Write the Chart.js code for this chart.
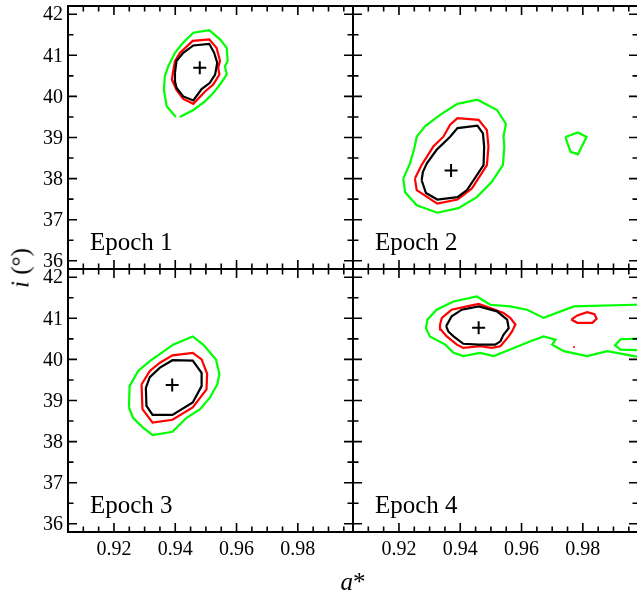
<!DOCTYPE html>
<html>
<head>
<meta charset="utf-8">
<script src="https://cdn.jsdelivr.net/npm/chart.js@4.4.0/dist/chart.umd.min.js"></script>
<style>
  html, body { margin: 0; padding: 0; background: #fff; }
  #wrap { position: relative; width: 637px; height: 595px; overflow: hidden; font-family: "Liberation Serif", "Times New Roman", serif; }
  #wrap canvas { position: absolute; left: 0; top: 0; }
  .lab { position: absolute; font-size: 25px; line-height: 1; color: #000; white-space: nowrap; }
  #ylab { left: 20px; top: 268px; transform: translate(-50%, -50%) rotate(-90deg); }
  #xlab { left: 353px; top: 569px; transform: translateX(-50%); }
</style>
</head>
<body>
<div id="wrap">
  <canvas id="c1" width="640" height="595"></canvas>
  <canvas id="c2" width="640" height="595"></canvas>
  <canvas id="c3" width="640" height="595"></canvas>
  <canvas id="c4" width="640" height="595"></canvas>
  <div class="lab" id="ylab"><i>i</i> (°)</div>
  <div class="lab" id="xlab"><i>a</i>*</div>
</div>
<script>
// axis ranges and tick labels
const X_MIN = 0.905, X_MAX = 0.998;
const Y_MIN = 35.8, Y_MAX = 42.2;
const xTickValues = [0.92, 0.94, 0.96, 0.98];
const yTickValues = [36, 37, 38, 39, 40, 41, 42];

// contour lines, [a*, i] pairs
// Epoch 1
const ep1Black = [[0.9399,40.57],[0.9404,40.86],[0.9426,41.06],[0.9459,41.24],[0.9511,41.28],[0.9527,41.06],[0.9537,40.82],[0.9533,40.65],[0.9530,40.53],[0.9513,40.33],[0.9486,40.18],[0.9459,39.90],[0.9426,40.00],[0.9404,40.21],[0.9399,40.37]];
const ep1Red = [[0.9393,40.61],[0.9399,40.86],[0.9415,41.06],[0.9457,41.35],[0.9511,41.39],[0.9535,41.18],[0.9546,40.86],[0.9540,40.70],[0.9544,40.53],[0.9524,40.29],[0.9497,40.12],[0.9459,39.82],[0.9426,39.94],[0.9404,40.16],[0.9389,40.41]];
const ep1Green = [[0.9402,39.50],[0.9372,39.76],[0.9363,40.16],[0.9366,40.49],[0.9377,40.73],[0.9399,41.06],[0.9426,41.31],[0.9459,41.55],[0.9511,41.61],[0.9546,41.39],[0.9568,41.18],[0.9571,40.86],[0.9562,40.73],[0.9568,40.53],[0.9546,40.29],[0.9524,40.08],[0.9497,39.88],[0.9459,39.67],[0.9415,39.50]];
const ep1Best = [0.948, 40.70];

// Epoch 2
const ep2Black = [[0.9274,37.96],[0.9288,37.65],[0.9325,37.49],[0.9391,37.55],[0.9422,37.72],[0.9476,38.33],[0.9478,38.78],[0.9474,39.10],[0.9456,39.29],[0.9391,39.23],[0.9367,39.02],[0.9323,38.70],[0.9291,38.37],[0.9278,38.16]];
const ep2Red = [[0.9252,38.00],[0.9258,37.72],[0.9325,37.39],[0.9391,37.49],[0.9438,37.76],[0.9487,38.33],[0.9492,38.78],[0.9487,39.18],[0.9460,39.43],[0.9391,39.47],[0.9367,39.31],[0.9345,39.02],[0.9312,38.78],[0.9274,38.33]];
const ep2Green = [[0.9214,38.00],[0.9220,37.67],[0.9258,37.35],[0.9325,37.17],[0.9394,37.28],[0.9454,37.55],[0.9503,37.92],[0.9539,38.33],[0.9544,38.78],[0.9541,39.02],[0.9549,39.33],[0.9520,39.67],[0.9456,39.92],[0.9391,39.82],[0.9334,39.55],[0.9285,39.27],[0.9258,39.02],[0.9249,38.70],[0.9236,38.37]];
const ep2GreenIsland = [[0.9743,39.01],[0.9760,38.65],[0.9784,38.59],[0.9812,39.01],[0.9784,39.12]];
const ep2Best = [0.937, 38.20];

// Epoch 3
const ep3Black = [[0.9304,39.31],[0.9306,38.87],[0.9326,38.65],[0.9391,38.65],[0.9457,38.95],[0.9486,39.35],[0.9486,39.67],[0.9457,39.97],[0.9391,39.98],[0.9350,39.80],[0.9317,39.57]];
const ep3Red = [[0.9290,39.39],[0.9293,38.79],[0.9326,38.46],[0.9391,38.53],[0.9457,38.83],[0.9502,39.27],[0.9504,39.65],[0.9486,40.00],[0.9457,40.16],[0.9391,40.10],[0.9350,39.92],[0.9317,39.72]];
const ep3Green = [[0.9249,38.83],[0.9251,39.35],[0.9279,39.72],[0.9317,39.96],[0.9393,40.36],[0.9457,40.56],[0.9491,40.36],[0.9533,40.00],[0.9544,39.64],[0.9537,39.39],[0.9513,39.07],[0.9481,38.79],[0.9437,38.58],[0.9391,38.24],[0.9326,38.16],[0.9295,38.34],[0.9262,38.58]];
const ep3Best = [0.939, 39.38];

// Epoch 4
const ep4Black = [[0.9354,40.81],[0.9372,41.05],[0.9405,41.21],[0.9460,41.29],[0.9520,41.17],[0.9553,40.97],[0.9558,40.76],[0.9541,40.60],[0.9531,40.44],[0.9514,40.36],[0.9460,40.36],[0.9410,40.38],[0.9378,40.56],[0.9361,40.68]];
const ep4Red = [[0.9334,40.85],[0.9340,41.01],[0.9372,41.21],[0.9422,41.29],[0.9460,41.35],[0.9498,41.25],[0.9541,41.13],[0.9563,41.01],[0.9580,40.85],[0.9569,40.68],[0.9558,40.56],[0.9531,40.32],[0.9503,40.28],[0.9465,40.32],[0.9410,40.28],[0.9389,40.36],[0.9356,40.56],[0.9336,40.73]];
const ep4RedIsland = [[0.9762,40.97],[0.9782,41.07],[0.9814,41.15],[0.9838,41.10],[0.9845,40.99],[0.9831,40.89],[0.9782,40.89]];
const ep4RedDot = [[0.9771,40.30]];
const ep4Green = [[1.000,41.34],[0.9967,41.33],[0.9771,41.29],[0.9672,41.01],[0.9618,41.21],[0.9563,41.29],[0.9498,41.33],[0.9454,41.53],[0.9378,41.41],[0.9323,41.21],[0.9293,40.97],[0.9288,40.76],[0.9301,40.56],[0.9351,40.36],[0.9378,40.16],[0.9410,40.08],[0.9465,40.16],[0.9509,40.08],[0.9563,40.24],[0.9629,40.44],[0.9672,40.56],[0.9711,40.48],[0.9700,40.36],[0.9738,40.20],[0.9814,40.08],[0.9880,40.20],[0.9967,40.08],[1.000,40.05]];
const ep4GreenHole = [[1.000,40.51],[0.9923,40.49],[0.9905,40.34],[0.9923,40.24],[1.000,40.22]];
const ep4Best = [0.946, 40.77];

const BLACK = '#000000', RED = '#ff0000', GREEN = '#00ff00';
const W = 640, H = 595;
const FONT = '"Liberation Serif", "Times New Roman", serif';

Chart.defaults.font.family = FONT;
Chart.defaults.color = '#000';

function contour(pts, color, closed) {
    const p = closed ? pts.concat([pts[0]]) : pts;
    return {
        data: p.map(([x, y]) => ({ x: x, y: y })),
        showLine: true,
        borderColor: color,
        borderWidth: 2.2,
        pointRadius: 0,
        pointHoverRadius: 0,
        tension: 0,
        fill: false
    };
}

function bestFit(pt) {
    return {
        data: [{ x: pt[0], y: pt[1] }],
        showLine: false,
        pointStyle: 'cross',
        pointRadius: 6.5,
        pointHoverRadius: 6.5,
        borderColor: BLACK,
        borderWidth: 2
    };
}

function dot(pts, color) {
    return {
        data: pts.map(([x, y]) => ({ x: x, y: y })),
        showLine: false,
        pointRadius: 1,
        backgroundColor: color,
        borderWidth: 0
    };
}

// frame, inward ticks on all four sides, tick labels and the epoch label
const panelDecor = {
    id: 'panelDecor',
    afterDraw(chart, args, opts) {
        const { ctx, chartArea: a, scales: { x, y } } = chart;
        ctx.save();
        ctx.strokeStyle = BLACK;
        ctx.lineWidth = 1.6;
        ctx.beginPath();
        for (let k = 1; k < 20; k++) {
            const v = Math.round((X_MIN + k * 0.005) * 1000) / 1000;
            if (v >= X_MAX) continue;
            const major = xTickValues.some(t => Math.abs(t - v) < 1e-6);
            const len = major ? 9 : 5.5;
            const px = x.getPixelForValue(v);
            ctx.moveTo(px, a.bottom); ctx.lineTo(px, a.bottom - len);
            ctx.moveTo(px, a.top); ctx.lineTo(px, a.top + len);
        }
        for (let v = 36; v <= 42; v += 0.5) {
            const major = yTickValues.includes(v);
            const len = major ? 9 : 5.5;
            const py = y.getPixelForValue(v);
            ctx.moveTo(a.left, py); ctx.lineTo(a.left + len, py);
            ctx.moveTo(a.right, py); ctx.lineTo(a.right - len, py);
        }
        ctx.stroke();
        ctx.lineWidth = 2;
        ctx.strokeRect(a.left, a.top, a.right - a.left, a.bottom - a.top);

        ctx.fillStyle = BLACK;
        ctx.font = '20px ' + FONT;
        if (opts.yLabels) {
            ctx.textAlign = 'right';
            ctx.textBaseline = 'middle';
            yTickValues.forEach(v => ctx.fillText(String(v), a.left - 5, y.getPixelForValue(v) + 1));
        }
        if (opts.xLabels) {
            ctx.textAlign = 'center';
            ctx.textBaseline = 'middle';
            xTickValues.forEach(v => ctx.fillText(v.toFixed(2), x.getPixelForValue(v), a.bottom + 18));
        }

        ctx.font = '25px ' + FONT;
        ctx.textBaseline = 'alphabetic';
        ctx.textAlign = 'left';
        ctx.fillText(opts.label, a.left + 22, a.bottom - 19);
        ctx.restore();
    }
};

const panels = [
    { id: 'c1', l: 68, t: 6, r: 353, b: 269, label: 'Epoch 1', xLabels: false, yLabels: true,
      sets: [bestFit(ep1Best), contour(ep1Black, BLACK, true), contour(ep1Red, RED, true), contour(ep1Green, GREEN, false)] },
    { id: 'c2', l: 353, t: 6, r: 638, b: 269, label: 'Epoch 2', xLabels: false, yLabels: false,
      sets: [bestFit(ep2Best), contour(ep2Black, BLACK, true), contour(ep2Red, RED, true), contour(ep2Green, GREEN, true), contour(ep2GreenIsland, GREEN, true)] },
    { id: 'c3', l: 68, t: 269, r: 353, b: 532, label: 'Epoch 3', xLabels: true, yLabels: true,
      sets: [bestFit(ep3Best), contour(ep3Black, BLACK, true), contour(ep3Red, RED, true), contour(ep3Green, GREEN, true)] },
    { id: 'c4', l: 353, t: 269, r: 638, b: 532, label: 'Epoch 4', xLabels: true, yLabels: false,
      sets: [bestFit(ep4Best), contour(ep4Black, BLACK, true), contour(ep4Red, RED, true), contour(ep4RedIsland, RED, true), dot(ep4RedDot, RED), contour(ep4Green, GREEN, false), contour(ep4GreenHole, GREEN, false)] }
];

panels.forEach(function(p) {
    new Chart(document.getElementById(p.id), {
        type: 'scatter',
        data: { datasets: p.sets },
        options: {
            responsive: false,
            animation: false,
            events: [],
            layout: { autoPadding: false, padding: { left: p.l, top: p.t, right: W - p.r, bottom: H - p.b } },
            plugins: {
                legend: { display: false },
                tooltip: { enabled: false },
                panelDecor: { label: p.label, xLabels: p.xLabels, yLabels: p.yLabels }
            },
            scales: {
                x: {
                    type: 'linear',
                    position: 'bottom',
                    min: X_MIN,
                    max: X_MAX,
                    grid: { display: false, drawTicks: false },
                    border: { display: false },
                    ticks: { display: false },
                    afterBuildTicks: s => { s.ticks = xTickValues.map(v => ({ value: v })); },
                    afterFit: s => { s.height = 0; }
                },
                y: {
                    type: 'linear',
                    position: 'left',
                    min: Y_MIN,
                    max: Y_MAX,
                    grid: { display: false, drawTicks: false },
                    border: { display: false },
                    ticks: { display: false },
                    afterBuildTicks: s => { s.ticks = yTickValues.map(v => ({ value: v })); },
                    afterFit: s => { s.width = 0; }
                }
            }
        },
        plugins: [panelDecor]
    });
});
</script>
</body>
</html>
